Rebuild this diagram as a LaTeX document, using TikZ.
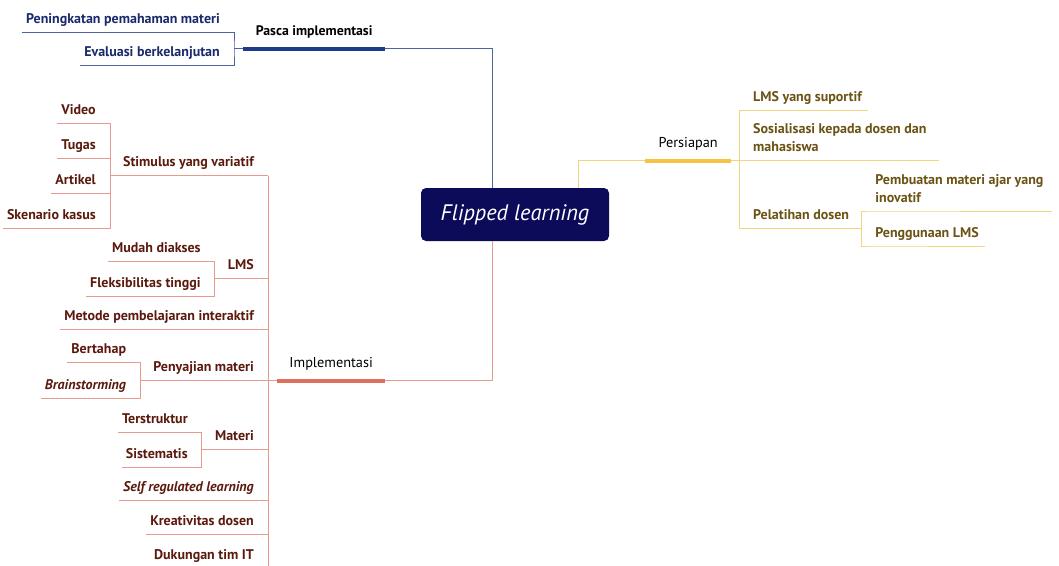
\documentclass[tikz,border=0pt]{standalone}
\usepackage{fontspec}
\setmainfont{PT Sans}
\usetikzlibrary{calc}

\definecolor{corebox}{HTML}{0B0B5A}
\definecolor{pascaline}{HTML}{4A65A0}
\definecolor{pascabar}{HTML}{1E3A8A}
\definecolor{pascatext}{HTML}{1A2A6C}
\definecolor{impline}{HTML}{E89A8E}
\definecolor{impbar}{HTML}{E0705E}
\definecolor{imptext}{HTML}{5C1A0E}
\definecolor{prepline}{HTML}{F2D57E}
\definecolor{prepbar}{HTML}{F5C445}
\definecolor{preptext}{HTML}{6B5314}

\tikzset{
  leaf/.style={inner xsep=4pt, inner ysep=4.5pt, text height=10pt, text depth=4pt,
    font=\fontsize{14}{18}\selectfont\bfseries},
  bkid/.style={leaf, text=pascatext},
  ikid/.style={leaf, text=imptext},
  pkid/.style={leaf, text=preptext, align=left},
  branchlabel/.style={inner xsep=0pt, inner ysep=9pt, text height=10pt, text depth=4pt,
    font=\fontsize{14.3}{17}\selectfont, text=black},
  bline/.style={draw=pascaline, line width=0.8pt},
  iline/.style={draw=impline, line width=0.8pt},
  pline/.style={draw=prepline, line width=0.8pt},
  bbar/.style={draw=pascabar, line width=4pt},
  ibar/.style={draw=impbar, line width=4pt},
  pbar/.style={draw=prepbar, line width=4pt},
}

\begin{document}
\begin{tikzpicture}[x=1pt,y=-1pt]
\clip (0,0) rectangle (1059,565);
\fill[white] (0,0) rectangle (1059,565);

% central topic
\node[fill=corebox, rounded corners=5pt, minimum width=188pt, minimum height=53pt,
      text=white, font=\fontsize{22.4}{26}\selectfont\itshape, inner sep=0pt]
      (fl) at (515,214.5) {Flipped learning};

% main branches
\node[branchlabel, font=\fontsize{13.8}{16}\selectfont\bfseries, minimum width=142pt, anchor=south west]
      (pasca) at (243,48.5) {Pasca implementasi};
\node[branchlabel, minimum width=108pt, anchor=south west]
      (impl) at (277,380.5) {Implementasi};
\node[branchlabel, minimum width=86pt, anchor=south west]
      (pers) at (645,160.5) {Persiapan};

\draw[bline] ([xshift=-23pt]fl.north) |- (pasca.south east);
\draw[iline] ([xshift=-23pt]fl.south) |- (impl.south east);
\draw[pline] ([xshift=63pt]fl.north) |- (pers.south west);

% ---- Pasca implementasi ----
\coordinate (bbr) at ([xshift=-9pt]pasca.south west);
\node[bkid, anchor=south east] (b1) at ($(bbr)+(-10,-16.5)$) {Peningkatan pemahaman materi};
\node[bkid, anchor=south east] (b2) at ($(bbr)+(-10,16.5)$) {Evaluasi berkelanjutan};
\draw[bline] (b1.south west) -| (bbr) |- (b2.south west);
\draw[bline] (bbr) -- (pasca.south west);
\draw[bbar] (pasca.south west) -- (pasca.south east);

% ---- Implementasi ----
\coordinate (isp) at ([xshift=-9pt]impl.south west);
\draw[iline] (isp) -- (impl.south west);

\node[ikid, anchor=south east] (i1) at (258,175.5) {Stimulus yang variatif};
\node[ikid, anchor=south east] (i2) at (258,278.5) {LMS};
\node[ikid, anchor=south east] (i3) at (258,329) {Metode pembelajaran interaktif};
\node[ikid, anchor=south east] (i4) at (258,380.5) {Penyajian materi};
\node[ikid, anchor=south east] (i5) at (258,449.5) {Materi};
\node[ikid, anchor=south east] (i6) at (258,500) {\itshape Self regulated learning};
\node[ikid, anchor=south east] (i7) at (258,534) {Kreativitas dosen};
\node[ikid, anchor=south east] (i8) at (258,568) {Dukungan tim IT};

\draw[iline] (isp |- i1.south) -- (isp |- i8.south);
\foreach \k in {3,6,7,8}
  \draw[iline] (i\k.south west) -- (i\k.south west -| isp);

% brackets of the sub-branches
\foreach \k in {1,2,4,5} {
  \coordinate (i\k b) at ([xshift=-9pt]i\k.south west);
  \draw[iline] (i\k b) -- (i\k b -| isp);
}

\node[ikid, anchor=south east] (i11) at ($(i1b)+(-10,-52.5)$) {Video};
\node[ikid, anchor=south east] (i12) at ($(i1b)+(-10,-17.5)$) {Tugas};
\node[ikid, anchor=south east] (i13) at ($(i1b)+(-10,17.5)$) {Artikel};
\node[ikid, anchor=south east] (i14) at ($(i1b)+(-10,52.5)$) {Skenario kasus};
\draw[iline] (i11.south west) -| (i1b) |- (i14.south west);
\draw[iline] (i12.south west) -- (i12.south west -| i1b);
\draw[iline] (i13.south west) -- (i13.south west -| i1b);

\node[ikid, anchor=south east] (i21) at ($(i2b)+(-10,-17.5)$) {Mudah diakses};
\node[ikid, anchor=south east] (i22) at ($(i2b)+(-10,17.5)$) {Fleksibilitas tinggi};
\draw[iline] (i21.south west) -| (i2b) |- (i22.south west);

\node[ikid, anchor=south east] (i41) at ($(i4b)+(-10,-18)$) {Bertahap};
\node[ikid, anchor=south east] (i42) at ($(i4b)+(-10,17.5)$) {\itshape Brainstorming};
\draw[iline] (i41.south west) -| (i4b) |- (i42.south west);

\node[ikid, anchor=south east] (i51) at ($(i5b)+(-10,-17.5)$) {Terstruktur};
\node[ikid, anchor=south east] (i52) at ($(i5b)+(-10,17.5)$) {Sistematis};
\draw[iline] (i51.south west) -| (i5b) |- (i52.south west);

\draw[ibar] (impl.south west) -- (impl.south east);

% ---- Persiapan ----
\coordinate (psp) at ([xshift=8pt]pers.south east);
\draw[pline] (pers.south east) -- (psp);

\node[pkid, anchor=south west] (p1) at (749,110) {LMS yang suportif};
\node[pkid, anchor=south west] (p2) at (749,160.5) {Sosialisasi kepada dosen dan\\mahasiswa};
\node[pkid, anchor=south west] (p3) at (749,228.5) {Pelatihan dosen};

\draw[pline] (psp |- p1.south) -- (psp |- p3.south);
\draw[pline] (psp |- p1.south) -- ([xshift=2pt]p1.south east);
\draw[pline] (psp |- p2.south) -- ([xshift=8pt]p2.south east);
\coordinate (p3b) at ([xshift=8pt]p3.south east);
\draw[pline] (psp |- p3.south) -- (p3b);

\node[pkid, anchor=south west] (p31) at ($(p3b)+(10,-17.5)$) {Pembuatan materi ajar yang\\inovatif};
\node[pkid, anchor=south west] (p32) at ($(p3b)+(10,17.5)$) {Penggunaan LMS};
\draw[pline] ([xshift=4pt]p31.south east) -- (p31.south west) -| (p3b)
             |- (p32.south west) -- ([xshift=2pt]p32.south east);

\draw[pbar] (pers.south west) -- (pers.south east);
\end{tikzpicture}
\end{document}
